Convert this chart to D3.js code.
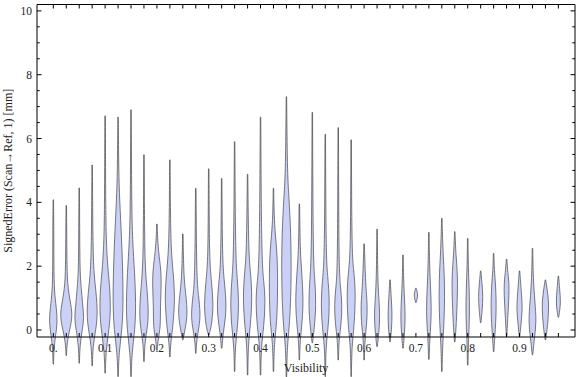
<!DOCTYPE html>
<html>
<head>
<meta charset="utf-8">
<script src="https://cdn.jsdelivr.net/npm/d3@7"></script>
<style>
    body { margin: 0; background: #fff; }
    svg text { font-family: 'Liberation Serif', 'DejaVu Serif', serif; fill: #222; }
</style>
</head>
<body>
<div id="chart"></div>
<script>
// visibility bins (categories)
const visibility = [0, 0.025, 0.05, 0.075, 0.1, 0.125, 0.15, 0.175, 0.2, 0.225,
    0.25, 0.275, 0.3, 0.325, 0.35, 0.375, 0.4, 0.425, 0.45, 0.475,
    0.5, 0.525, 0.55, 0.575, 0.6, 0.625, 0.65, 0.675, 0.7, 0.725,
    0.75, 0.775, 0.8, 0.825, 0.85, 0.875, 0.9, 0.925, 0.95, 0.975]
const xTickLabels = { 0: '0.', 0.1: '0.1', 0.2: '0.2', 0.3: '0.3', 0.4: '0.4', 0.5: '0.5',
    0.6: '0.6', 0.7: '0.7', 0.8: '0.8', 0.9: '0.9' }
const yTicks = [0, 2, 4, 6, 8, 10]

// violin outlines per bin: [signed error, relative density]
const violins = [
    [[-1.07, 0], [-0.6, 0.05], [-0.2, 0.3], [0.25, 0.65], [0.7, 0.45], [1.2, 0.12], [2, 0.05], [3.2, 0.04], [4.08, 0]],
    [[-0.8, 0], [-0.4, 0.08], [0, 0.5], [0.45, 1.0], [0.9, 0.6], [1.4, 0.15], [2.2, 0.06], [3.9, 0]],
    [[-1.04, 0], [-0.5, 0.06], [0, 0.45], [0.38, 0.75], [0.8, 0.5], [1.3, 0.3], [1.8, 0.08], [3, 0.04], [4.45, 0]],
    [[-1.12, 0], [-0.5, 0.08], [0, 0.55], [0.5, 0.85], [1.2, 0.6], [1.8, 0.2], [3, 0.06], [5.17, 0]],
    [[-1.35, 0], [-0.7, 0.08], [-0.1, 0.5], [0.5, 0.85], [1.3, 0.75], [2.0, 0.35], [3, 0.1], [4.5, 0.04], [6.71, 0]],
    [[-1.46, 0], [-0.7, 0.1], [0, 0.6], [0.8, 0.8], [2, 0.7], [3.2, 0.45], [4.3, 0.15], [5.3, 0.05], [6.67, 0]],
    [[-1.46, 0], [-0.7, 0.1], [0, 0.6], [0.8, 0.75], [1.8, 0.55], [2.8, 0.2], [4, 0.06], [6.9, 0]],
    [[-0.99, 0], [-0.4, 0.08], [0.1, 0.55], [0.6, 0.7], [1.3, 0.45], [2, 0.12], [3.5, 0.04], [5.49, 0]],
    [[-0.63, 0], [-0.3, 0.15], [0.1, 0.55], [0.7, 0.5], [1.5, 0.7], [2.0, 0.55], [2.6, 0.12], [3.32, 0]],
    [[-0.84, 0], [-0.4, 0.08], [0.1, 0.45], [1.0, 0.8], [1.8, 0.5], [2.5, 0.15], [3.8, 0.04], [5.33, 0]],
    [[-0.31, 0], [0, 0.3], [0.5, 0.75], [1.1, 0.45], [1.7, 0.1], [3.01, 0]],
    [[-0.73, 0], [-0.3, 0.1], [0.1, 0.5], [0.5, 0.72], [1.1, 0.4], [1.6, 0.1], [4.44, 0]],
    [[-0.15, 0], [0.1, 0.4], [0.8, 0.75], [1.5, 0.4], [2.2, 0.1], [3.5, 0.04], [5.05, 0]],
    [[-0.57, 0], [-0.1, 0.2], [0.4, 0.6], [0.9, 0.7], [1.6, 0.35], [2.2, 0.08], [4.75, 0]],
    [[-1.3, 0], [-0.5, 0.06], [0.1, 0.45], [0.9, 0.65], [1.6, 0.4], [2.3, 0.1], [5.9, 0]],
    [[-1.41, 0], [-0.5, 0.06], [0.1, 0.4], [1.0, 0.72], [1.8, 0.45], [2.4, 0.12], [4.88, 0]],
    [[-1.41, 0], [-0.5, 0.08], [0.1, 0.5], [0.9, 0.75], [1.5, 0.5], [2.2, 0.12], [6.67, 0]],
    [[-1.3, 0], [-0.4, 0.08], [0.2, 0.5], [1.2, 0.65], [2.3, 0.6], [3.0, 0.25], [3.6, 0.06], [4.44, 0]],
    [[-1.47, 0], [-0.5, 0.08], [0.2, 0.5], [1.5, 0.75], [3.0, 0.7], [4.2, 0.35], [5.0, 0.1], [7.31, 0]],
    [[-0.94, 0], [-0.3, 0.08], [0.3, 0.45], [1.0, 0.6], [1.8, 0.35], [2.5, 0.08], [3.95, 0]],
    [[-0.4, 0], [0, 0.25], [0.8, 0.6], [1.6, 0.35], [2.3, 0.08], [6.82, 0]],
    [[-1.46, 0], [-0.5, 0.06], [0.1, 0.45], [0.9, 0.68], [1.7, 0.35], [2.3, 0.08], [6.13, 0]],
    [[-0.94, 0], [-0.3, 0.08], [0.2, 0.45], [0.8, 0.6], [1.4, 0.3], [2, 0.06], [6.34, 0]],
    [[-1.46, 0], [-0.5, 0.06], [0.1, 0.45], [1.2, 0.7], [1.9, 0.35], [2.5, 0.06], [5.96, 0]],
    [[-0.94, 0], [-0.3, 0.08], [0.2, 0.4], [0.8, 0.5], [1.4, 0.2], [2.7, 0]],
    [[-0.52, 0], [0, 0.3], [0.5, 0.42], [1.1, 0.2], [1.8, 0.05], [3.16, 0]],
    [[-0.37, 0], [0, 0.2], [0.5, 0.32], [1, 0.15], [1.57, 0]],
    [[-0.57, 0], [-0.1, 0.2], [0.4, 0.35], [1.0, 0.2], [1.6, 0.05], [2.35, 0]],
    [[0.86, 0], [1.1, 0.33], [1.31, 0]],
    [[-0.92, 0], [-0.3, 0.1], [0.6, 0.42], [1.4, 0.2], [2.2, 0.05], [3.06, 0]],
    [[-1.3, 0], [-0.4, 0.1], [0.5, 0.4], [1.6, 0.42], [2.5, 0.12], [3.5, 0]],
    [[-0.37, 0], [0, 0.15], [0.8, 0.35], [1.7, 0.45], [2.4, 0.12], [3.08, 0]],
    [[-1.1, 0], [-0.3, 0.08], [0.5, 0.28], [1.3, 0.2], [2.0, 0.05], [2.87, 0]],
    [[0.23, 0], [0.6, 0.2], [1.05, 0.35], [1.5, 0.15], [1.85, 0]],
    [[-0.68, 0], [-0.2, 0.15], [0.6, 0.42], [1.4, 0.3], [1.9, 0.06], [2.4, 0]],
    [[-0.21, 0], [0.4, 0.15], [1.36, 0.45], [1.8, 0.15], [2.22, 0]],
    [[-0.21, 0], [0.2, 0.2], [0.65, 0.45], [1.2, 0.25], [1.85, 0]],
    [[-0.78, 0], [-0.2, 0.3], [0.25, 0.6], [0.9, 0.35], [1.6, 0.08], [2.56, 0]],
    [[-0.31, 0], [0.1, 0.3], [0.75, 0.55], [1.2, 0.3], [1.57, 0]],
    [[0.4, 0], [0.85, 0.38], [1.3, 0.15], [1.69, 0]]
]

drawViolins()
function drawViolins() {
    const dim = {
        width: 576,
        height: 377,
        margin: { top: 4.5, right: 1, bottom: 40, left: 37 }
    }
    dim.boundedWidth = dim.width - dim.margin.left - dim.margin.right
    dim.boundedHeight = dim.height - dim.margin.top - dim.margin.bottom

    const wrapper = d3.select('#chart')
        .append('svg')
        .attr('width', dim.width)
        .attr('height', dim.height)
    const bounds = wrapper.append('g')
        .attr('transform', `translate(${dim.margin.left},${dim.margin.top})`)

    const xScale = d3.scaleLinear()
        .domain([-0.0315, 1.0071])
        .range([0, dim.boundedWidth])
    const yScale = d3.scaleLinear()
        .domain([-0.22, 10.2])
        .range([dim.boundedHeight, 0])
    const widthScale = d3.scaleLinear()
        .domain([0, 1])
        .range([0, 6.2])

    // violins
    const area = d3.area()
        .curve(d3.curveBasis)
        .y(d => yScale(d[0]))
    bounds.append('g').selectAll('path')
        .data(violins)
        .join('path')
        .attr('d', (d, i) => {
            const cx = xScale(visibility[i])
            return area.x0(p => cx - widthScale(p[1]) - 0.25)
                .x1(p => cx + widthScale(p[1]) + 0.25)(d)
        })
        .attr('fill', '#cbd1f6')
        .attr('stroke', '#4a4a4a')
        .attr('stroke-opacity', 0.8)
        .attr('stroke-width', 0.9)

    // frame
    const frame = bounds.append('g')
        .attr('stroke', '#000')
        .attr('fill', 'none')
    frame.append('path')
        .attr('d', `M0,${dim.boundedHeight}V0H${dim.boundedWidth}V${dim.boundedHeight}`)
        .attr('stroke-width', 1)
    frame.append('line')
        .attr('x1', 0).attr('x2', dim.boundedWidth)
        .attr('y1', dim.boundedHeight).attr('y2', dim.boundedHeight)
        .attr('stroke-width', 1.2)

    // x ticks, bottom and top
    frame.selectAll('.x-tick-bottom').data(visibility)
        .join('line').attr('class', 'x-tick-bottom')
        .attr('x1', d => xScale(d)).attr('x2', d => xScale(d))
        .attr('y1', dim.boundedHeight).attr('y2', dim.boundedHeight - 4)
    frame.selectAll('.x-tick-top').data(visibility)
        .join('line').attr('class', 'x-tick-top')
        .attr('x1', d => xScale(d)).attr('x2', d => xScale(d))
        .attr('y1', 0).attr('y2', 4)

    // y ticks, left and right (minor every 0.5)
    const yMinor = yScale.ticks(20).filter(d => d >= 0)
    frame.selectAll('.y-tick-left').data(yMinor)
        .join('line').attr('class', 'y-tick-left')
        .attr('x1', 0).attr('x2', d => yTicks.includes(d) ? 4.5 : 2.7)
        .attr('y1', d => yScale(d)).attr('y2', d => yScale(d))
    frame.selectAll('.y-tick-right').data(yMinor)
        .join('line').attr('class', 'y-tick-right')
        .attr('x1', dim.boundedWidth)
        .attr('x2', d => dim.boundedWidth - (yTicks.includes(d) ? 4.5 : 2.7))
        .attr('y1', d => yScale(d)).attr('y2', d => yScale(d))

    // tick labels
    bounds.append('g').selectAll('text')
        .data(Object.keys(xTickLabels).map(Number))
        .join('text')
        .attr('x', d => xScale(d))
        .attr('y', dim.boundedHeight + 15)
        .attr('text-anchor', 'middle')
        .style('font-size', '11.5px')
        .text(d => xTickLabels[d])
    bounds.append('g').selectAll('text')
        .data(yTicks)
        .join('text')
        .attr('x', -5)
        .attr('y', d => yScale(d) + 4)
        .attr('text-anchor', 'end')
        .style('font-size', '11.5px')
        .text(d => d)

    // axis labels
    bounds.append('text')
        .attr('x', dim.boundedWidth / 2)
        .attr('y', dim.boundedHeight + 35)
        .attr('text-anchor', 'middle')
        .style('font-size', '12px')
        .text('Visibility')
    bounds.append('text')
        .attr('transform', `translate(${-25},${dim.boundedHeight / 2}) rotate(-90)`)
        .attr('text-anchor', 'middle')
        .style('font-size', '12px')
        .text('SignedError (Scan→Ref, 1) [mm]')
}
</script>
</body>
</html>
